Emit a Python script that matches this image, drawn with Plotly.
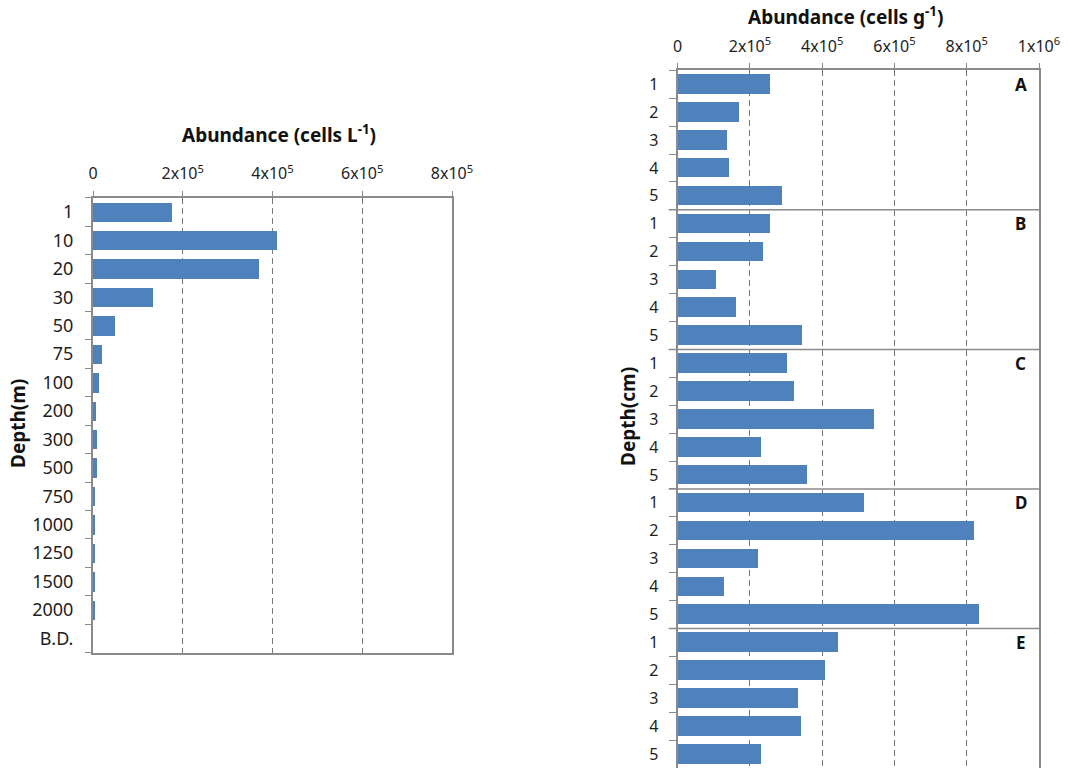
import plotly.graph_objects as go

# Water column: abundance by depth (cells per litre)
depth_m = ["1", "10", "20", "30", "50", "75", "100", "200", "300", "500",
           "750", "1000", "1250", "1500", "2000", "B.D."]
cells_per_L = [1.755e5, 4.09e5, 3.71e5, 1.34e5, 4.9e4, 2.1e4, 1.27e4, 6.7e3,
               8.9e3, 9.8e3, 4.5e3, 4.5e3, 5.3e3, 3.0e3, 3.0e3, 0]

# Sediment: abundance by station and depth layer (cells per gram)
stations = ["A", "B", "C", "D", "E"]
layers_cm = ["1", "2", "3", "4", "5"]
cells_per_g = {
    "A": [2.56e5, 1.70e5, 1.35e5, 1.40e5, 2.89e5],
    "B": [2.54e5, 2.36e5, 1.05e5, 1.60e5, 3.44e5],
    "C": [3.03e5, 3.20e5, 5.43e5, 2.29e5, 3.58e5],
    "D": [5.16e5, 8.19e5, 2.22e5, 1.28e5, 8.33e5],
    "E": [4.44e5, 4.08e5, 3.32e5, 3.41e5, 2.29e5],
}

left_ticks = [0, 2e5, 4e5, 6e5, 8e5]
left_ticktext = ["0", "2x10<sup>5</sup>", "4x10<sup>5</sup>", "6x10<sup>5</sup>", "8x10<sup>5</sup>"]
right_ticks = [0, 2e5, 4e5, 6e5, 8e5, 1e6]
right_ticktext = ["0", "2x10<sup>5</sup>", "4x10<sup>5</sup>", "6x10<sup>5</sup>",
                  "8x10<sup>5</sup>", "1x10<sup>6</sup>"]

W, H = 1071, 768
BAR = "#4F81BD"
FRAME = "#8a8a8a"
GRID = "#7a7a7a"
TEXT = "#1e1e1e"
FONT = "Noto Sans"

fig = go.Figure()

# left panel bars
y_left = list(range(len(depth_m)))
fig.add_trace(go.Bar(x=cells_per_L, y=y_left, orientation="h", width=0.68,
                     marker=dict(color=BAR, line=dict(width=0)),
                     xaxis="x", yaxis="y", showlegend=False))

# right panel bars, stations stacked top to bottom
sed_vals, sed_labels = [], []
for s in stations:
    sed_vals += cells_per_g[s]
    sed_labels += layers_cm
y_right = list(range(len(sed_vals)))
fig.add_trace(go.Bar(x=sed_vals, y=y_right, orientation="h", width=0.70,
                     marker=dict(color=BAR, line=dict(width=0)),
                     xaxis="x2", yaxis="y2", showlegend=False))


def px_x(p):
    return p / W


def px_y(p):
    return 1 - p / H


common_x = dict(side="top", showgrid=True, gridcolor=GRID, griddash="6px,4px",
                gridwidth=1, zeroline=False, showline=True, linecolor=FRAME,
                linewidth=2, ticks="outside", ticklen=5, tickcolor=FRAME,
                tickmode="array", ticklabelstandoff=5, automargin=False,
                tickfont=dict(family=FONT, size=16, color=TEXT))

common_y = dict(tickmode="array", ticks="", showgrid=False, zeroline=False,
                showline=True, linecolor=FRAME, linewidth=2, mirror=True,
                ticklabelstandoff=14, automargin=False)

fig.update_layout(
    width=W, height=H,
    margin=dict(l=0, r=0, t=0, b=0),
    paper_bgcolor="white", plot_bgcolor="white",
    bargap=0,
    xaxis=dict(domain=[px_x(93), px_x(452)], range=[0, 8e5], anchor="y",
               tickvals=left_ticks, ticktext=left_ticktext, mirror=True,
               **common_x),
    yaxis=dict(domain=[px_y(652.7), px_y(197.7)], anchor="x",
               range=[len(depth_m) - 0.5, -0.5],
               tickvals=y_left, ticktext=depth_m,
               tickfont=dict(family=FONT, size=18, color=TEXT),
               minor=dict(tickmode="array",
                          tickvals=[i - 0.5 for i in range(len(depth_m) + 1)],
                          ticks="outside", ticklen=6, tickcolor=FRAME,
                          tickwidth=1, showgrid=False),
               **common_y),
    xaxis2=dict(domain=[px_x(677.7), px_x(1039)], range=[0, 1e6], anchor="y2",
                tickvals=right_ticks, ticktext=right_ticktext, mirror=False,
                **common_x),
    yaxis2=dict(domain=[0, px_y(70.3)], anchor="x2",
                range=[len(sed_vals) - 0.5, -0.5],
                tickvals=y_right, ticktext=sed_labels,
                tickfont=dict(family=FONT, size=16, color=TEXT),
                minor=dict(tickmode="array",
                           tickvals=[i - 0.5 for i in range(len(sed_vals) + 1)],
                           ticks="outside", ticklen=7, tickcolor=FRAME,
                           tickwidth=1, showgrid=False),
                **common_y),
)

# station dividers and station letters
n = len(layers_cm)
for k, s in enumerate(stations):
    if k > 0:
        fig.add_shape(type="line", xref="x2 domain", yref="y2",
                      x0=-0.025, x1=1, y0=k * n - 0.5, y1=k * n - 0.5,
                      line=dict(color=FRAME, width=1.5), layer="above")
    fig.add_annotation(xref="x2 domain", yref="y2", x=0.949, y=k * n,
                       xanchor="center", yanchor="middle",
                       text="<b>%s</b>" % s, showarrow=False,
                       font=dict(family=FONT, size=17, color="#111111"))

# axis titles
title_font = dict(family=FONT, size=19, color="#111111")
titles = [
    (279, 134, "<b>Abundance (cells L<sup>-1</sup>)</b>", 0),
    (845, 16, "<b>Abundance (cells g<sup>-1</sup>)</b>", 0),
    (18, 424, "<b>Depth(m)</b>", -90),
    (628, 417, "<b>Depth(cm)</b>", -90),
]
for tx, ty, txt, ang in titles:
    fig.add_annotation(xref="paper", yref="paper", x=px_x(tx), y=px_y(ty),
                       xanchor="center", yanchor="middle", text=txt,
                       textangle=ang, showarrow=False, font=title_font)

fig.write_html("out.html")
